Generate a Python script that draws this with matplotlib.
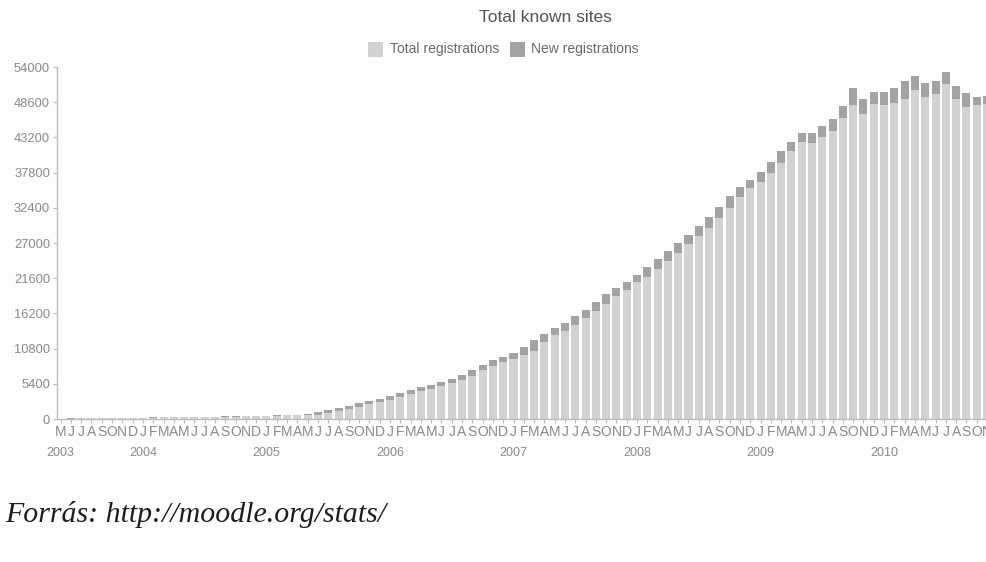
import numpy as np
import matplotlib
matplotlib.use("Agg")
import matplotlib.pyplot as plt
from matplotlib.patches import Rectangle

# Monthly Moodle site counts, May 2003 - Nov 2010
month_letters = list("MJJASOND" + "JFMAMJJASOND" * 6 + "JFMAMJJASON")
year_labels = ["2003", "2004", "2005", "2006", "2007", "2008", "2009", "2010"]
year_start_index = [0, 8, 20, 32, 44, 56, 68, 80]

site_totals = [
    60, 80, 100, 120, 140, 160, 180, 200,
    220, 240, 260, 280, 300, 320, 340, 360, 390, 420, 450, 480,
    520, 560, 610, 660, 700, 1020, 1330, 1640, 2040, 2400, 2810, 3120,
    3530, 3940, 4450, 4860, 5270, 5680, 6190, 6730, 7500, 8350, 8980, 9500,
    10120, 11020, 12120, 12990, 13940, 14800, 15800, 16780, 17930, 19130, 20120, 20970,
    22090, 23370, 24600, 25820, 27050, 28230, 29610, 30940, 32570, 34210, 35540, 36660,
    37940, 39470, 41160, 42420, 43920, 43920, 45000, 46020, 48010, 50730, 49090, 50120,
    50120, 50730, 51850, 52670, 51490, 51850, 53180, 51130, 49960, 49450, 49600,
]

new_registrations = [
    15, 18, 20, 20, 22, 22, 24, 25,
    25, 25, 28, 30, 30, 32, 35, 35, 38, 40, 40, 42,
    45, 50, 55, 60, 70, 410, 430, 460, 480, 500, 520, 520,
    560, 580, 620, 640, 660, 690, 720, 770, 920, 870, 870, 770,
    870, 1230, 1640, 1120, 1120, 1230, 1380, 1280, 1430, 1430, 1280, 1120,
    1020, 1530, 1640, 1640, 1530, 1380, 1530, 1580, 1790, 1890, 1430, 1280,
    1530, 1690, 1840, 1300, 1430, 1530, 1690, 1790, 1890, 2560, 2300, 1790,
    1950, 2190, 2760, 2190, 2040, 1990, 1790, 2040, 2040, 1270, 1230,
]

y_ticks = [0, 5400, 10800, 16200, 21600, 27000, 32400, 37800, 43200, 48600, 54000]

LIGHT = "#d2d2d4"
DARK = "#a3a3a5"
TEXT = "#8a8a8a"
AXIS = "#bdbdbd"
BG = "#fdfdfd"

plt.rcParams["font.family"] = ["Liberation Sans", "DejaVu Sans"]

W, H = 987, 562
fig = plt.figure(figsize=(W / 100, H / 100), dpi=100, facecolor=BG)
ax = fig.add_axes([57 / W, 143 / H, 930 / W, 352 / H])
ax.set_facecolor(BG)

x = np.arange(len(site_totals))
totals = np.array(site_totals)
new = np.array(new_registrations)
ax.bar(x, totals - new, width=0.78, color=LIGHT, linewidth=0)
ax.bar(x, new, bottom=totals - new, width=0.78, color=DARK, linewidth=0)

ax.set_xlim(-0.35, 90.0)
ax.set_ylim(0, 54000)

for side in ("top", "right"):
    ax.spines[side].set_visible(False)
for side in ("left", "bottom"):
    ax.spines[side].set_color(AXIS)
    ax.spines[side].set_linewidth(1.0)

ax.set_yticks(y_ticks)
ax.set_yticklabels([str(v) for v in y_ticks])
ax.tick_params(axis="y", length=3, color=AXIS, labelcolor=TEXT, labelsize=9.3, pad=2)

ax.set_xticks(x)
ax.set_xticklabels(month_letters)
ax.tick_params(axis="x", length=3, color=AXIS, labelcolor=TEXT, labelsize=10, pad=1)

for lbl, idx in zip(year_labels, year_start_index):
    ax.annotate(lbl, xy=(idx, 0), xycoords=("data", "axes fraction"),
                xytext=(0, -34), textcoords="offset pixels",
                ha="center", va="center", fontsize=9, color=TEXT)

fig.text(545 / W, 1 - 18 / H, "Total known sites", ha="center", va="center",
         fontsize=12.5, color="#555555")

# legend swatches
fig.patches.append(Rectangle((368 / W, 1 - 57 / H), 15 / W, 15 / H,
                             transform=fig.transFigure, color=LIGHT, linewidth=0))
fig.text(390 / W, 1 - 49 / H, "Total registrations", ha="left", va="center",
         fontsize=10, color="#6a6a6a")
fig.patches.append(Rectangle((510 / W, 1 - 57 / H), 15 / W, 15 / H,
                             transform=fig.transFigure, color=DARK, linewidth=0))
fig.text(531 / W, 1 - 49 / H, "New registrations", ha="left", va="center",
         fontsize=10, color="#6a6a6a")

fig.text(5 / W, 1 - 515 / H, "Forrás: http://moodle.org/stats/", ha="left", va="center",
         fontsize=21.5, style="italic", family=["Liberation Serif", "DejaVu Serif"],
         color="#1e1e1e")

fig.savefig("out.png", dpi=100, facecolor=BG)
